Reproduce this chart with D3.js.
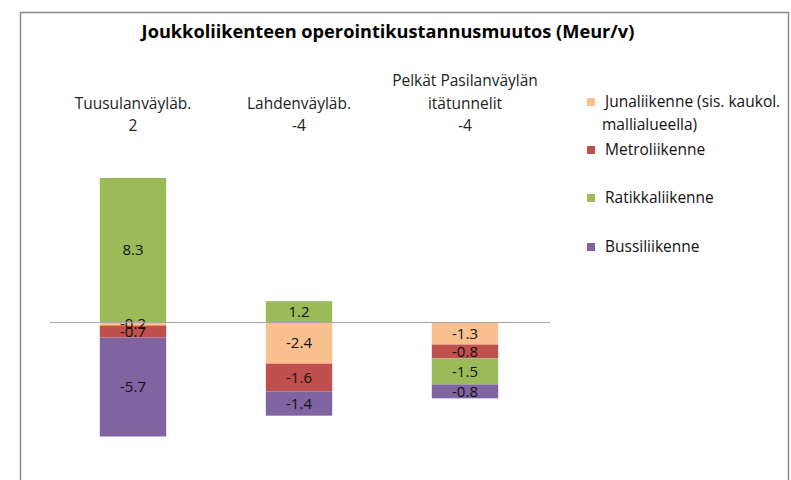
<!DOCTYPE html>
<html>
<head>
<meta charset="utf-8">
<script src="https://cdn.jsdelivr.net/npm/d3@7"></script>
<style>
  html, body { margin: 0; padding: 0; background: #fff; }
  svg { display: block; font-family: "Open Sans", "Noto Sans", sans-serif; }
</style>
</head>
<body>
<svg id="chart" width="791" height="480"></svg>
<script>
// Operating cost change of public transport per alternative (M€ / year)
const categories = ["Tuusulanväyläb.", "Lahdenväyläb.", "Pelkät Pasilanväylän itätunnelit"];
const categoryLines = [["Tuusulanväyläb."], ["Lahdenväyläb."], ["Pelkät Pasilanväylän", "itätunnelit"]];
const seriesNames = ["Junaliikenne (sis. kaukol. mallialueella)", "Metroliikenne", "Ratikkaliikenne", "Bussiliikenne"];
const legendLines = [["Junaliikenne (sis. kaukol.", "mallialueella)"], ["Metroliikenne"], ["Ratikkaliikenne"], ["Bussiliikenne"]];
const juna   = [-0.2, -2.4, -1.3];
const metro  = [-0.7, -1.6, -0.8];
const ratikka = [8.3, 1.2, -1.5];
const bussi  = [-5.7, -1.4, -0.8];
const colors = ["#FAC090", "#C0504D", "#9BBB59", "#8064A2"];

const seriesValues = [juna, metro, ratikka, bussi];
const fmt = v => v.toFixed(1);   // plain hyphen-minus, one decimal

const svg = d3.select("#chart");

// chart frame
svg.append("path")
  .attr("d", "M20.5,480 V12.5 H788.5 V480")
  .attr("fill", "none")
  .attr("stroke", "#8a8a8a")
  .attr("stroke-width", 1.5);

// title
svg.append("text")
  .attr("x", 388).attr("y", 38)
  .attr("text-anchor", "middle")
  .attr("font-size", 18.2)
  .attr("font-weight", "bold")
  .attr("fill", "#000")
  .text("Joukkoliikenteen operointikustannusmuutos (Meur/v)");

const x = d3.scaleBand().domain(categories).range([50, 548]).paddingInner(0.6).paddingOuter(0.3);
const y = d3.scaleLinear().domain([-8, 10]).range([460.8, 148.5]);

// stack positives upward and negatives downward from zero, in series order
const segments = [];
categories.forEach((c, ci) => {
  let pos = 0, neg = 0;
  seriesValues.forEach((vals, si) => {
    const v = vals[ci];
    let y0, y1;
    if (v >= 0) { y0 = pos; y1 = pos + v; pos = y1; }
    else { y0 = neg; y1 = neg + v; neg = y1; }
    segments.push({ cat: c, si, v, y0, y1 });
  });
});

const g = svg.append("g");

g.selectAll("rect.seg")
  .data(segments)
  .join("rect")
  .attr("class", "seg")
  .attr("x", d => x(d.cat))
  .attr("width", x.bandwidth())
  .attr("y", d => y(Math.max(d.y0, d.y1)))
  .attr("height", d => Math.abs(y(d.y0) - y(d.y1)))
  .attr("fill", d => colors[d.si]);

// zero line
svg.append("line")
  .attr("x1", 50).attr("x2", 550)
  .attr("y1", Math.round(y(0)) + 0.5).attr("y2", Math.round(y(0)) + 0.5)
  .attr("stroke", "#a6a6a6")
  .attr("stroke-width", 1.2);

// value labels centred in each segment
g.selectAll("text.val")
  .data(segments)
  .join("text")
  .attr("class", "val")
  .attr("x", d => x(d.cat) + x.bandwidth() / 2)
  .attr("y", d => y((d.y0 + d.y1) / 2))
  .attr("dy", "0.36em")
  .attr("text-anchor", "middle")
  .attr("font-size", 15)
  .attr("fill", "#111")
  .text(d => fmt(d.v));

// category labels with rounded totals above the bars
categories.forEach((c, ci) => {
  const total = Math.round(seriesValues.reduce((s, vals) => s + vals[ci], 0));
  const lines = categoryLines[ci].concat([String(total)]);
  const startY = 131 - (lines.length - 1) * 22.5;
  const t = svg.append("text")
    .attr("text-anchor", "middle")
    .attr("font-size", 15.5)
    .attr("fill", "#222");
  lines.forEach((ln, li) => {
    t.append("tspan")
      .attr("x", x(c) + x.bandwidth() / 2)
      .attr("y", startY + li * 22.5)
      .text(ln);
  });
});

// legend
const legendY = [102, 150, 198, 247];
seriesNames.forEach((name, si) => {
  svg.append("rect")
    .attr("x", 587).attr("y", legendY[si] - 4)
    .attr("width", 8).attr("height", 8)
    .attr("fill", colors[si]);
  const t = svg.append("text")
    .attr("font-size", 15.5)
    .attr("fill", "#111");
  legendLines[si].forEach((ln, li) => {
    t.append("tspan")
      .attr("x", li === 0 ? 605 : 602)
      .attr("y", legendY[si] + 5 + li * 22.5)
      .text(ln);
  });
});
</script>
</body>
</html>
